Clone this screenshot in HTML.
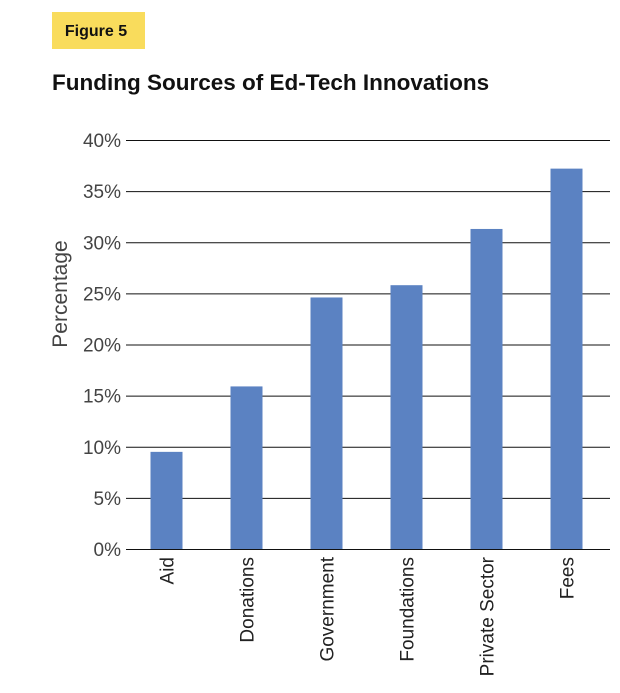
<!DOCTYPE html>
<html><head><meta charset="utf-8"><style>
body{margin:0;background:#fff;width:620px;height:688px;overflow:hidden;font-family:"Liberation Sans",Arial,sans-serif;}
</style></head><body>
<svg id="chart" width="620" height="688" xmlns="http://www.w3.org/2000/svg">
<rect x="52" y="12" width="93" height="37" fill="#f9dc5c"/>
<text x="96" y="36" text-anchor="middle" font-size="16" font-weight="bold" fill="#111">Figure 5</text>
<text x="52" y="90" font-size="22.5" font-weight="bold" fill="#111">Funding Sources of Ed-Tech Innovations</text>
<text transform="translate(67,294) rotate(-90)" text-anchor="middle" font-size="21" fill="#444">Percentage</text>
<g id="grid"></g><g id="bars"></g><g id="labels"></g>
</svg>
<script>
const categories=["Aid","Donations","Government","Foundations","Private Sector","Fees"];
const values=[9.5,15.9,24.6,25.8,31.3,37.2];
const ticks=[0,5,10,15,20,25,30,35,40];
const tickLabels=["0%","5%","10%","15%","20%","25%","30%","35%","40%"];
const NS="http://www.w3.org/2000/svg";
const x0=126.5,band=80,y0=549,yTop=140,yMax=40;
const y=v=>y0-(v/yMax)*(y0-yTop);
const xc=i=>x0+band*(i+0.5);
const grid=document.getElementById('grid'),bars=document.getElementById('bars'),labels=document.getElementById('labels');
function mk(t,a){const e=document.createElementNS(NS,t);for(const k in a)e.setAttribute(k,a[k]);return e;}
ticks.forEach((t,i)=>{
 const l=mk('line',{x1:126,x2:610,y1:y(t)+0.5,y2:y(t)+0.5,stroke:'#111','stroke-width':1});
 
 
 grid.appendChild(l);
 const tx=mk('text',{x:121,y:y(t)+7,'text-anchor':'end','font-size':19,fill:'#444'});
 tx.textContent=tickLabels[i];
 
 
 grid.appendChild(tx);
});
values.forEach((v,i)=>{
 const r=mk('rect',{x:xc(i)-16,y:y(v),width:32,height:y0-y(v),fill:'#5b82c2'});
 
 
 bars.appendChild(r);
 const t=mk('text',{transform:`translate(${xc(i)+7},557) rotate(-90)`,'text-anchor':'end','font-size':19,fill:'#222'});
 t.textContent=categories[i];
 
 
 labels.appendChild(t);
});
</script>
</body></html>
